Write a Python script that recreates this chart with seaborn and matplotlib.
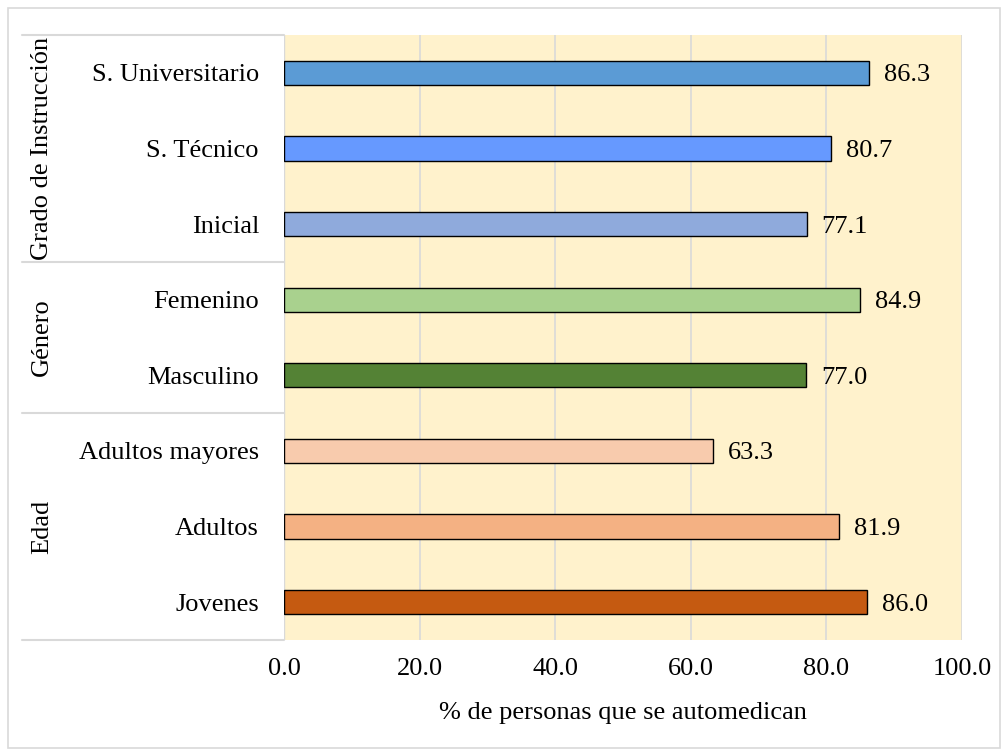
import matplotlib
matplotlib.use("Agg")
import matplotlib.pyplot as plt
import seaborn as sns
import pandas as pd

categorias = ["S. Universitario", "S. Técnico", "Inicial", "Femenino", "Masculino",
              "Adultos mayores", "Adultos", "Jovenes"]
porcentajes = [86.3, 80.7, 77.1, 84.9, 77.0, 63.3, 81.9, 86.0]
colores = ["#5B9BD5", "#6699FF", "#8FAADC", "#A9D18E", "#548235",
           "#F8CBAD", "#F4B183", "#C55A11"]
grupos = ["Grado de Instrucción", "Género", "Edad"]
grupo_tamanos = [3, 2, 3]
x_ticks = [0, 20, 40, 60, 80, 100]

sns.set_style("white")
plt.rcParams['font.family'] = ['Liberation Serif', 'DejaVu Serif']
plt.rcParams['text.color'] = 'black'
plt.rcParams['xtick.color'] = 'black'
plt.rcParams['ytick.color'] = 'black'
plt.rcParams['axes.labelcolor'] = 'black'

FS = 19

df = pd.DataFrame({"cat": categorias, "pct": porcentajes})

fig = plt.figure(figsize=(10.08, 7.55), dpi=100)
ax = fig.add_axes([284 / 1008, 1 - 640 / 755, 678 / 1008, 605 / 755])
ax.set_facecolor("#FFF2CC")

sns.barplot(data=df, y="cat", x="pct", hue="cat", palette=colores, legend=False,
            saturation=1, width=0.32, edgecolor="black", linewidth=1.0, ax=ax, zorder=3)

ax.set_xlim(0, 100)
ax.set_ylim(7.5, -0.5)
ax.set_xticks(x_ticks)
ax.set_xticklabels([f"{v:.1f}" for v in x_ticks], fontsize=FS)
ax.tick_params(axis="x", length=0, pad=13)
ax.tick_params(axis="y", length=0, pad=18, labelsize=FS)
ax.set_ylabel("")
ax.set_xlabel("% de personas que se automedican", fontsize=FS, labelpad=16)
for v in x_ticks[1:]:
    ax.axvline(v, color="#D9D9D9", linewidth=1.2, zorder=1)
for s in ax.spines.values():
    s.set_visible(False)
ax.axvline(0, color="#D9D9D9", linewidth=1.0, zorder=1)

for i, v in enumerate(porcentajes):
    ax.text(v + 2.2, i, f"{v:.1f}", va="center_baseline", ha="left", fontsize=FS, zorder=4)

# panel de grupos a la izquierda
x0 = -262 / 678
bounds = [-0.5]
for n in grupo_tamanos:
    bounds.append(bounds[-1] + n)
trans = matplotlib.transforms.blended_transform_factory(ax.transAxes, ax.transData)
for b in bounds:
    ax.plot([x0, 0], [b, b], transform=trans, color="#D9D9D9", linewidth=1.5,
            clip_on=False, zorder=5)
for g, a, b in zip(grupos, bounds[:-1], bounds[1:]):
    ax.text(-242 / 678, (a + b) / 2, g, transform=trans, rotation=90,
            ha="center", va="center", fontsize=FS)

# borde exterior
fig.patches.append(plt.Rectangle((8 / 1008, 7 / 755), 992 / 1008, 740 / 755,
                                 transform=fig.transFigure, fill=False,
                                 edgecolor="#D9D9D9", linewidth=1.2))

fig.savefig("out.png", dpi=100)
